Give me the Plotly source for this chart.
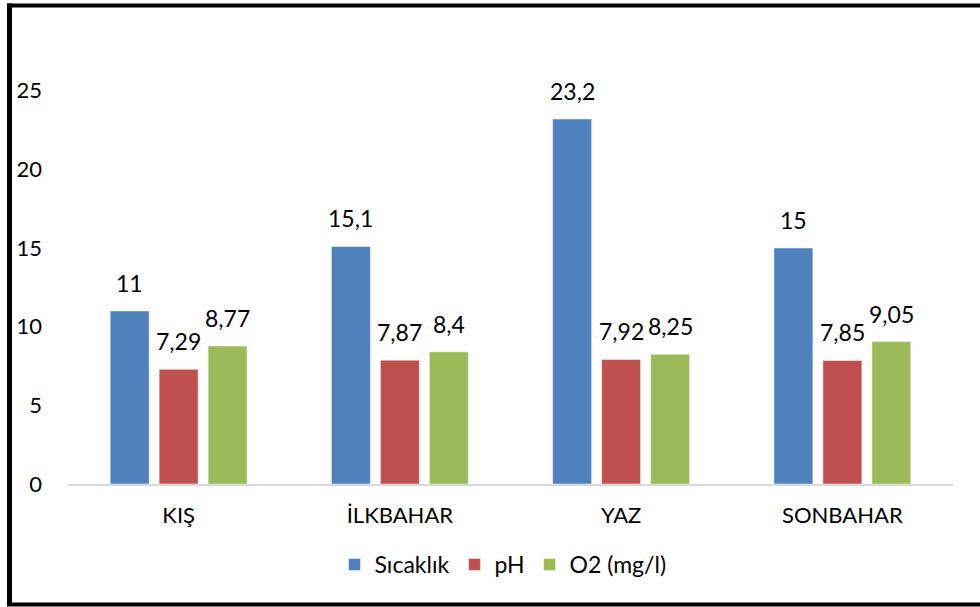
import plotly.graph_objects as go

categories = ["KIŞ", "İLKBAHAR", "YAZ", "SONBAHAR"]
sicaklik = [11, 15.1, 23.2, 15]
ph = [7.29, 7.87, 7.92, 7.85]
o2 = [8.77, 8.4, 8.25, 9.05]
series_names = ["Sıcaklık", "pH", "O2 (mg/l)"]
colors = ["#4F81BD", "#C0504D", "#9BBB59"]
y_ticks = [0, 5, 10, 15, 20, 25]

def fmt(v):
    return ("%g" % v).replace(".", ",")

FONT = "Lato, Carlito, Calibri, sans-serif"
FS = 22

W, H = 980, 607
l, r, t, b = 68, 27, 12, 123
pw, ph_ = W - l - r, H - t - b
BARGAP, GROUPGAP = 0.336, 0.204

def px2x(px):
    return (px - l) / pw

def py2y(py):
    return (H - b - py) / ph_

all_series = [sicaklik, ph, o2]
fig = go.Figure()
for name, vals, col in zip(series_names, all_series, colors):
    fig.add_trace(go.Bar(
        x=categories, y=vals, name=name,
        marker=dict(color=col, line=dict(color="rgba(255,255,255,0.5)", width=1)),
        hoverinfo="x+y+name",
    ))

# data labels: placed on each bar via annotations anchored to data coords
slot_px = pw / len(categories) * (1 - BARGAP) / len(all_series)
annotations = []
for i, vals in enumerate(all_series):
    for cat, v in zip(categories, vals):
        annotations.append(dict(
            x=cat, y=v, xref="x", yref="y", text=fmt(v), showarrow=False,
            xanchor="center", yanchor="bottom",
            xshift=(i - (len(all_series) - 1) / 2) * slot_px, yshift=12,
            font=dict(size=23, family=FONT, color="#000000"),
        ))

fig.update_layout(
    template="none",
    width=W, height=H,
    margin=dict(l=l, r=r, t=t, b=b, pad=0, autoexpand=False),
    paper_bgcolor="white", plot_bgcolor="white",
    barmode="group", bargap=BARGAP, bargroupgap=GROUPGAP,
    font=dict(family=FONT, size=FS, color="#000000"),
    showlegend=True,
    legend=dict(orientation="h", x=px2x(503), xanchor="center", y=py2y(543), yanchor="top",
                font=dict(size=23, family=FONT), traceorder="normal",
                bgcolor="rgba(0,0,0,0)"),
    xaxis=dict(showline=True, linecolor="#D9D9D9", linewidth=2, ticks="",
               tickfont=dict(size=FS, family=FONT), showgrid=False, automargin=False,
               zeroline=False, ticklabelstandoff=11),
    yaxis=dict(range=[0, 30], tickvals=y_ticks, ticktext=[str(v) for v in y_ticks],
               showgrid=False, zeroline=False, showline=False, ticks="",
               ticklabelstandoff=25, tickfont=dict(size=FS, family=FONT), automargin=False),
    annotations=annotations,
    shapes=[
        dict(type="line", xref="paper", yref="paper", x0=px2x(9.5), x1=px2x(9.5),
             y0=py2y(3.5), y1=py2y(606), line=dict(color="black", width=5)),
        dict(type="line", xref="paper", yref="paper", x0=px2x(7), x1=px2x(1000),
             y0=py2y(5.5), y1=py2y(5.5), line=dict(color="black", width=4)),
        dict(type="line", xref="paper", yref="paper", x0=px2x(7), x1=px2x(1000),
             y0=py2y(604.5), y1=py2y(604.5), line=dict(color="black", width=4)),
    ],
)

fig.write_html("out.html", config={"displayModeBar": False},
               post_script="document.body.style.margin='0';document.body.style.padding='0';document.body.style.overflow='hidden';")
